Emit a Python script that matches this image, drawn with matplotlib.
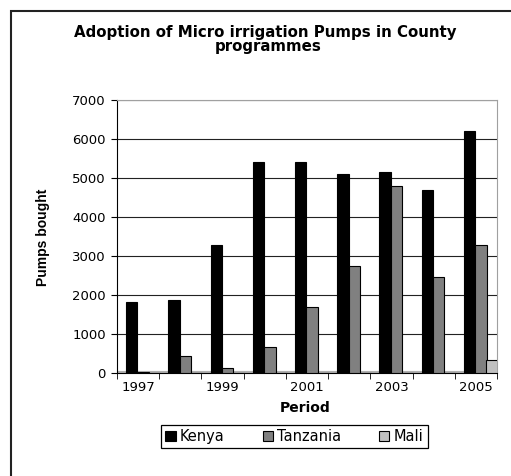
import matplotlib
matplotlib.use("Agg")
import matplotlib.pyplot as plt
from matplotlib.patches import Rectangle
import numpy as np

years = [1997, 1998, 1999, 2000, 2001, 2002, 2003, 2004, 2005]
kenya = [1820, 1880, 3270, 5400, 5400, 5100, 5150, 4700, 6200]
tanzania = [20, 430, 130, 660, 1700, 2750, 4800, 2460, 3280]
mali = [10, 0, 0, 0, 0, 0, 0, 0, 330]
series_names = ["Kenya", "Tanzania", "Mali"]
series_colors = ["#000000", "#808080", "#c0c0c0"]
tick_labels = ["1997", "", "1999", "", "2001", "", "2003", "", "2005"]

W, H = 511, 476
fig = plt.figure(figsize=(W / 100, H / 100), dpi=100)
fig.patch.set_facecolor("white")

def fx(px):
    return px / W

def fy(py):
    return 1 - py / H

# outer chart border (extends beyond right/bottom of the image)
fig.patches.append(Rectangle((fx(10.5), -0.2), 1.5, fy(10.5) + 0.2,
                             transform=fig.transFigure, fill=False,
                             edgecolor="#222222", linewidth=1.5))

ax = fig.add_axes([fx(117), fy(373), fx(497) - fx(117), fy(100) - fy(373)])
x = np.arange(len(years))
width = 0.27
offsets = [-0.15, 0.12, 0.38]
for vals, off, col, name in zip([kenya, tanzania, mali], offsets, series_colors, series_names):
    ax.bar(x + off, vals, width=width, color=col, edgecolor="black",
           linewidth=0.8, label=name, zorder=3)

ax.set_xlim(-0.5, len(years) - 0.5)
ax.set_ylim(0, 7000)
ax.set_yticks(np.arange(0, 7001, 1000))
ax.set_xticks(x)
ax.set_xticklabels(tick_labels)
ax.set_xticks(np.arange(-0.5, len(years), 1.0), minor=True)
ax.tick_params(axis="x", which="major", length=0, pad=6, labelsize=9.5)
ax.tick_params(axis="x", which="minor", length=4, direction="out", color="black")
ax.tick_params(axis="y", length=4, direction="out", labelsize=9.5, pad=4)
for lbl in ax.get_xticklabels() + ax.get_yticklabels():
    lbl.set_family("DejaVu Sans")

ax.grid(axis="y", color="#222222", linewidth=0.8, zorder=0)
ax.set_axisbelow(True)
ax.axhline(0, color="#b0b0b0", linewidth=3, zorder=2)
for s in ["top", "right"]:
    ax.spines[s].set_color("#a0a0a0")
ax.spines["left"].set_color("black")
ax.spines["bottom"].set_color("black")

fig.text(fx(265), fy(32), "Adoption of Micro irrigation Pumps in County",
         ha="center", va="center", fontsize=10.8, fontweight="bold",
         family="DejaVu Sans")
fig.text(fx(268), fy(47), "programmes", ha="center", va="center",
         fontsize=10.8, fontweight="bold", family="DejaVu Sans")
fig.text(fx(43), fy(237), "Pumps bought", rotation=90, ha="center", va="center",
         fontsize=10, fontweight="bold",
         family=["Liberation Sans Narrow", "Liberation Sans"])
fig.text(fx(305), fy(408), "Period", ha="center", va="center",
         fontsize=10, fontweight="bold", family="DejaVu Sans")

handles, labels = ax.get_legend_handles_labels()
leg = fig.legend(handles, labels, loc="center",
                 bbox_to_anchor=(fx(294.5), fy(436.5)), ncol=3,
                 frameon=True, fancybox=False, edgecolor="black",
                 framealpha=1, prop={"family": "DejaVu Sans", "size": 10.5},
                 handlelength=0.7, handleheight=0.7, handletextpad=0.3,
                 columnspacing=2.6, borderpad=0.3)
leg.get_frame().set_linewidth(0.9)

fig.savefig("out.png", dpi=100, facecolor="white")
